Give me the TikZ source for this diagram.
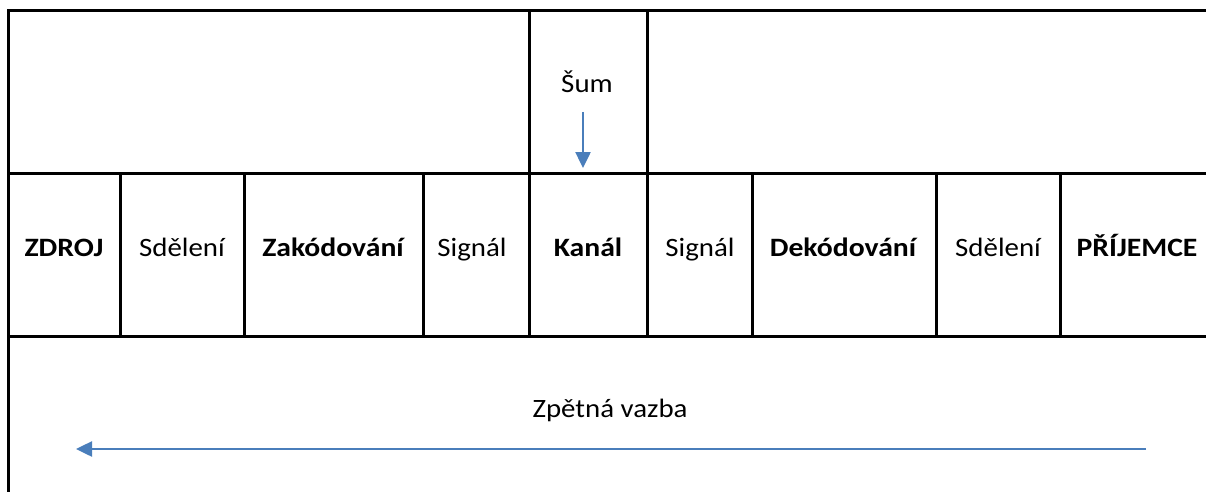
\documentclass[tikz,border=0pt]{standalone}
\usepackage{fontspec}
\setmainfont{Carlito}[FakeStretch=1.09, BoldFeatures={FakeStretch=1.12}]
\usetikzlibrary{arrows.meta}
\definecolor{flowblue}{HTML}{4A7EBB}
\tikzset{
  grid/.style={line width=3pt, line join=miter, black},
  cell/.style={anchor=base, inner sep=0pt, font=\fontsize{26.5}{30}\selectfont},
  head/.style={cell, font=\fontsize{26.5}{30}\selectfont\bfseries},
  flow/.style={flowblue, line width=2.5pt, -{Triangle[length=16pt,width=15pt]}}
}
\begin{document}
\begin{tikzpicture}[x=1pt,y=-1pt]
\useasboundingbox (0,0) rectangle (1206,492);
% table frame and rules
\draw[grid] (8,492) -- (8,11) -- (1206,11);
\draw[grid] (8,173) -- (1206,173);
\draw[grid] (8,336) -- (1206,336);
\draw[grid] (529,11) -- (529,336);
\draw[grid] (647.5,11) -- (647.5,336);
\foreach \x in {120,244,423.5,752,936,1060}
  \draw[grid] (\x,173) -- (\x,336);
% noise on the channel
\node[cell] (sum) at (587,93) {Šum};
\coordinate (sumA) at (583,112);
\coordinate (sumB) at (583,168);
\draw[flow] (sumA) -- (sumB);
% communication chain
\node[head] (zdroj) at (64,256) {ZDROJ};
\node[cell] (sd1) at (182,256) {Sdělení};
\node[head] (zak) at (333,256) {Zakódování};
\node[cell] (sig1) at (472,256) {Signál};
\node[head] (kanal) at (588,256) {Kanál};
\node[cell] (sig2) at (700,256) {Signál};
\node[head] (dek) at (843,256) {Dekódování};
\node[cell] (sd2) at (998,256) {Sdělení};
\node[head] (prij) at (1137,256) {PŘÍJEMCE};
% feedback
\node[cell] (zpet) at (610,417) {Zpětná vazba};
\coordinate (fbA) at (1146,449);
\coordinate (fbB) at (76,449);
\draw[flow] (fbA) -- (fbB);
\end{tikzpicture}
\end{document}
